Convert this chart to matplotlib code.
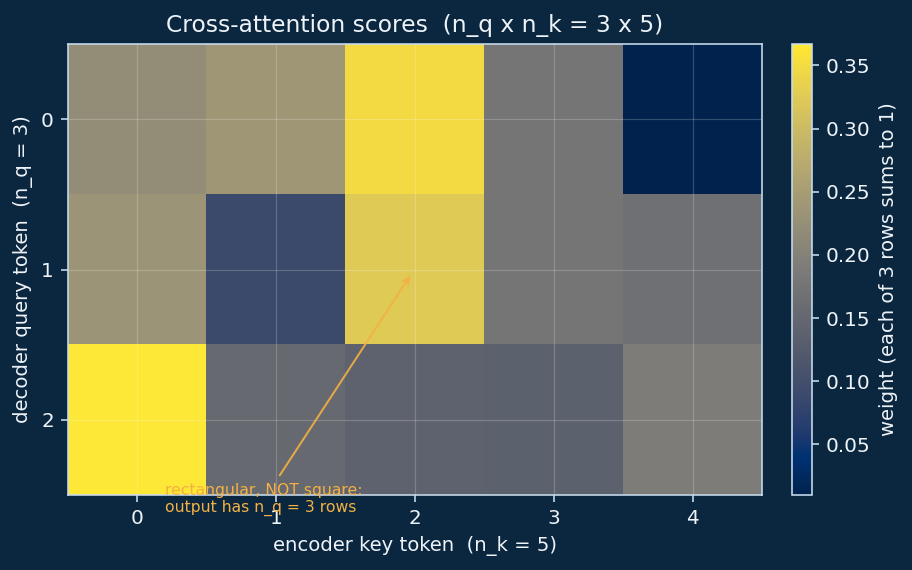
import numpy as np
import matplotlib
matplotlib.use("Agg")
from matplotlib import pyplot as plt

# attention weights, rows = decoder queries, cols = encoder keys
scores = np.array([
    [0.222, 0.240, 0.350, 0.178, 0.010],
    [0.235, 0.090, 0.325, 0.178, 0.168],
    [0.367, 0.155, 0.140, 0.138, 0.190],
])
key_ticks = [0, 1, 2, 3, 4]
query_ticks = [0, 1, 2]
cbar_ticks = [0.05, 0.10, 0.15, 0.20, 0.25, 0.30, 0.35]

bg = "#0b2740"
fg = "#eef3f8"
edge = "#c9dcee"
orange = "#f4b143"

fig = plt.figure(figsize=(912 / 144, 570 / 144), dpi=144, facecolor=bg)
ax = fig.add_axes([68 / 912, 75 / 570, 694 / 912, 451 / 570])
cax = fig.add_axes([792 / 912, 75 / 570, 20 / 912, 451 / 570])
ax.set_facecolor(bg)

im = ax.imshow(scores, cmap="cividis", aspect="auto")
ax.set_xticks(key_ticks)
ax.set_yticks(query_ticks)
ax.grid(True, color="white", alpha=0.2, linewidth=0.6)
for s in ax.spines.values():
    s.set_color(edge)
ax.tick_params(colors=edge, labelcolor=fg, labelsize=10)

ax.set_title("Cross-attention scores  (n_q x n_k = 3 x 5)", color=fg, fontsize=11.7)
ax.set_xlabel("encoder key token  (n_k = 5)", color=fg, fontsize=9.8)
ax.set_ylabel("decoder query token  (n_q = 3)", color=fg, fontsize=9.8)

ax.annotate("rectangular, NOT square:\noutput has n_q = 3 rows",
            xy=(1.98, 1.02), xytext=(0.2, 2.53), ha="left", va="center",
            color=orange, fontsize=7.8, annotation_clip=False,
            arrowprops=dict(arrowstyle="->", color=orange, lw=1.0, alpha=0.9))

cb = fig.colorbar(im, cax=cax, ticks=cbar_ticks)
cb.outline.set_edgecolor(edge)
cb.ax.tick_params(colors=edge, labelcolor=fg, labelsize=10)
cb.set_label("weight (each of 3 rows sums to 1)", color=fg, fontsize=9.8)

fig.savefig("out.png", dpi=144, facecolor=bg)
